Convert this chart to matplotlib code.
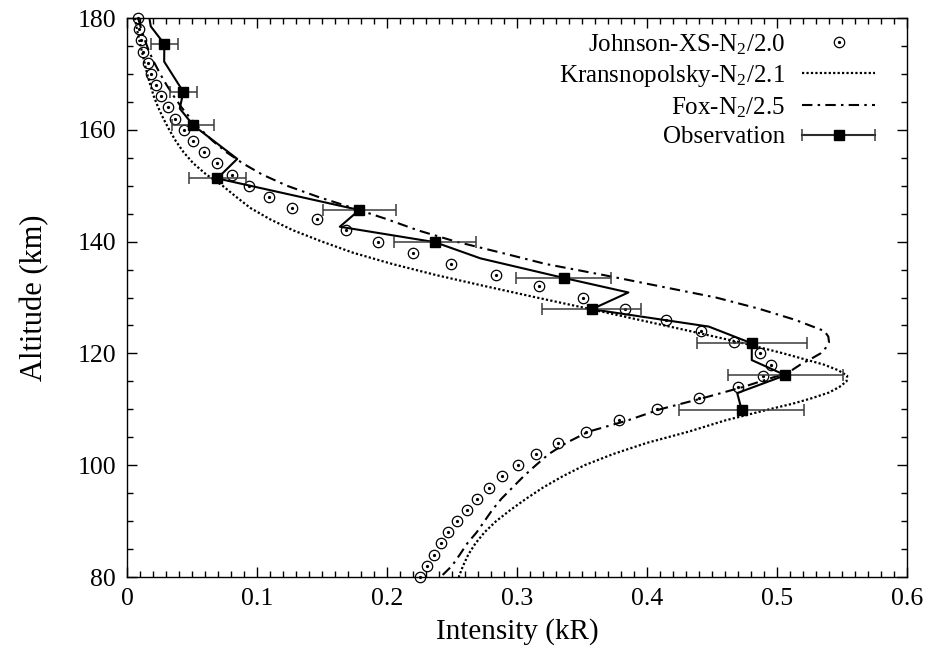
import matplotlib
matplotlib.use("Agg")
import matplotlib.pyplot as plt
from matplotlib.ticker import MultipleLocator
from matplotlib.legend_handler import HandlerTuple, HandlerErrorbar
from matplotlib.container import ErrorbarContainer

plt.rcParams['font.family'] = ['Liberation Serif', 'DejaVu Serif']
plt.rcParams['mathtext.fontset'] = 'custom'
plt.rcParams['mathtext.rm'] = 'Liberation Serif'
plt.rcParams['mathtext.it'] = 'Liberation Serif:italic'

# Johnson cross-section model (scaled by 1/2.0)
johnson_alt = [180, 178, 176, 174, 172, 170, 168, 166, 164, 162, 160, 158, 156,
               154, 152, 150, 148, 146, 144, 142, 140, 138, 136, 134, 132, 130,
               128, 126, 124, 122, 120, 118, 116, 114, 112, 110, 108, 106, 104,
               102, 100, 98, 96, 94, 92, 90, 88, 86, 84, 82, 80]
johnson_int = [0.0081, 0.0094, 0.0106, 0.0125, 0.0158, 0.0188, 0.0225, 0.0260,
               0.0312, 0.0371, 0.0435, 0.0506, 0.0591, 0.0691, 0.0806, 0.0935,
               0.1094, 0.1271, 0.1458, 0.1686, 0.1927, 0.2200, 0.2495, 0.2837,
               0.3171, 0.3504, 0.3832, 0.4148, 0.4414, 0.4668, 0.4868, 0.4955,
               0.4894, 0.4698, 0.4402, 0.4078, 0.3781, 0.3529, 0.3319, 0.3148,
               0.3009, 0.2886, 0.2788, 0.2696, 0.2617, 0.2542, 0.2473, 0.2414,
               0.2360, 0.2309, 0.2252]

# Krasnopolsky model (scaled by 1/2.1)
kras_alt = [180, 177, 175, 172, 170, 168, 166, 164, 162, 160, 158, 156, 154, 152,
            150, 148, 146, 144, 142, 140, 138, 136, 134, 132, 130, 128, 126, 124,
            122, 120, 118, 117, 116, 115, 114, 113, 112, 111, 110, 108, 106, 104,
            102, 100, 98, 96, 94, 92, 90, 88, 86, 84, 82, 80]
kras_int = [0.0060, 0.0085, 0.0105, 0.0135, 0.0155, 0.0180, 0.0206, 0.0240,
            0.0280, 0.0325, 0.0375, 0.0435, 0.0510, 0.0610, 0.0735, 0.0840,
            0.0950, 0.1100, 0.1280, 0.1500, 0.1740, 0.2040, 0.2380, 0.2760,
            0.3150, 0.3550, 0.3940, 0.4330, 0.4710, 0.5050, 0.5360, 0.5470,
            0.5540, 0.5535, 0.5480, 0.5400, 0.5270, 0.5120, 0.4940, 0.4600,
            0.4320, 0.4000, 0.3740, 0.3520, 0.3350, 0.3200, 0.3070, 0.2950,
            0.2840, 0.2750, 0.2680, 0.2625, 0.2585, 0.2552]

# Fox model (scaled by 1/2.5)
fox_alt = [180, 178, 176, 174, 172, 170, 168, 166, 164, 162, 160, 158, 156, 154,
           152, 150, 148, 146, 144, 142, 140, 138, 136, 134, 132, 130, 128, 126,
           124, 123, 122, 121, 120, 119, 118, 117, 116, 114, 112, 110, 108, 106,
           104, 102, 100, 98, 96, 94, 92, 90, 88, 86, 84, 82, 80]
fox_int = [0.0085, 0.0110, 0.0138, 0.0170, 0.0210, 0.0255, 0.0305, 0.0360,
           0.0420, 0.0490, 0.0570, 0.0660, 0.0765, 0.0890, 0.1040, 0.1230,
           0.1470, 0.1740, 0.2000, 0.2240, 0.2530, 0.2880, 0.3220, 0.3670,
           0.4100, 0.4530, 0.4860, 0.5140, 0.5365, 0.5395, 0.5400, 0.5375,
           0.5335, 0.5260, 0.5180, 0.5115, 0.5010, 0.4740, 0.4430, 0.4100,
           0.3850, 0.3550, 0.3380, 0.3245, 0.3145, 0.3050, 0.2965, 0.2880,
           0.2810, 0.2750, 0.2690, 0.2617, 0.2560, 0.2500, 0.2412]

# Observed profile (full resolution)
prof_alt = [180.0, 178.5, 175.35, 172.2, 166.8, 163.8, 160.8, 154.8, 151.3,
            145.65, 142.66, 139.9, 137.0, 133.5, 130.9, 127.9, 124.8, 121.8,
            118.8, 116.1, 112.9, 109.8]
prof_int = [0.0172, 0.0183, 0.0287, 0.0286, 0.0433, 0.0406, 0.0510, 0.0848,
            0.0695, 0.1787, 0.1637, 0.2368, 0.2719, 0.3360, 0.3857, 0.3575,
            0.4475, 0.4806, 0.4806, 0.5065, 0.4694, 0.4729]

# Observation points with uncertainties
obs_alt = [175.35, 166.8, 160.8, 151.3, 145.65, 139.9, 133.5, 127.9, 121.8,
           116.1, 109.8]
obs_int = [0.0287, 0.0433, 0.0510, 0.0695, 0.1787, 0.2368, 0.3360, 0.3575,
           0.4806, 0.5065, 0.4729]
obs_err = [0.0105, 0.0104, 0.0161, 0.0220, 0.0280, 0.0314, 0.0366, 0.0380,
           0.0425, 0.0444, 0.0480]

x_ticks = [0, 0.1, 0.2, 0.3, 0.4, 0.5, 0.6]
x_ticklabels = ['0', '0.1', '0.2', '0.3', '0.4', '0.5', '0.6']

labels = ['Johnson-XS-N$_2$/2.0', 'Kransnopolsky-N$_2$/2.1',
          'Fox-N$_2$/2.5', 'Observation']

fig = plt.figure(figsize=(9.28, 6.55), dpi=100)
ax = fig.add_axes([127 / 928, 78 / 655, 780 / 928, 559 / 655])

k_line, = ax.plot(kras_int, kras_alt, color='black', lw=1.6,
                  linestyle=(0, (1, 1)))
f_line, = ax.plot(fox_int, fox_alt, color='black', lw=1.5,
                  linestyle=(0, (5, 2.5, 1.2, 2.5)))
j_ring, = ax.plot(johnson_int, johnson_alt, linestyle='none', marker='o',
                  markersize=7.5, markerfacecolor='none',
                  markeredgecolor='black', markeredgewidth=0.9, clip_on=False,
                  zorder=3)
j_dot, = ax.plot(johnson_int, johnson_alt, linestyle='none', marker='o',
                 markersize=1.3, color='black', clip_on=False, zorder=3)
o_line, = ax.plot(prof_int, prof_alt, color='black', lw=1.5, zorder=4)
o_err = ax.errorbar(obs_int, obs_alt, xerr=obs_err, fmt='s', color='black',
                    markersize=6.5, ecolor='#3a3a3a', elinewidth=1.1,
                    capsize=4, capthick=1.1, zorder=5)

ax.set_xlim(0, 0.6)
ax.set_ylim(80, 180)
ax.set_xticks(x_ticks)
ax.set_xticklabels(x_ticklabels)
ax.xaxis.set_minor_locator(MultipleLocator(0.01))
ax.yaxis.set_major_locator(MultipleLocator(20))
ax.yaxis.set_minor_locator(MultipleLocator(5))
ax.tick_params(which='both', direction='in', top=True, right=True,
               labelsize=18.5, width=1.0)
ax.tick_params(which='major', length=7, pad=8)
ax.tick_params(which='minor', length=4)
for s in ax.spines.values():
    s.set_linewidth(1.0)

ax.set_xlabel('Intensity (kR)', fontsize=21, labelpad=6)
ax.set_ylabel('Altitude (km)', fontsize=22, labelpad=20)

leg = ax.legend([(j_ring, j_dot), k_line, f_line, (o_line, o_err)], labels,
                loc='upper right', bbox_to_anchor=(875 / 928, 1 - 32 / 655),
                bbox_transform=fig.transFigure, frameon=False,
                markerfirst=False, fontsize=18, handlelength=2.9,
                handletextpad=0.7, labelspacing=0.25, borderpad=0,
                borderaxespad=0,
                handler_map={tuple: HandlerTuple(ndivide=1),
                             ErrorbarContainer: HandlerErrorbar(xerr_size=1.45)})

fig.savefig('out.png', dpi=100)
